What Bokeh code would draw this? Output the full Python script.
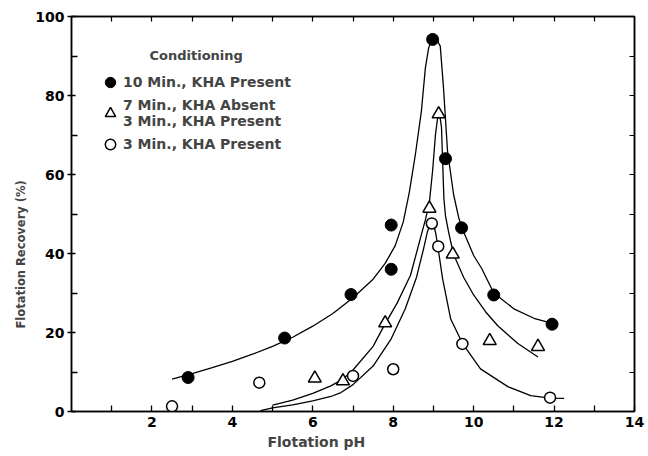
from bokeh.plotting import figure
from bokeh.models import (LinearAxis, FixedTicker, Legend, LegendItem, Label,
                          Range1d, CustomJSTickFormatter, Title)
from bokeh.embed import file_html
from bokeh.resources import INLINE

# ---- data ----
ph_10min = [2.9, 5.3, 6.95, 7.95, 7.95, 8.98, 9.3, 9.7, 10.5, 11.95]
rec_10min = [8.6, 18.6, 29.6, 47.2, 36.0, 94.2, 64.0, 46.5, 29.5, 22.1]

ph_7min = [6.05, 6.75, 7.8, 8.9, 9.13, 9.48, 10.4, 11.6]
rec_7min = [8.4, 7.7, 22.4, 51.4, 75.3, 39.8, 17.9, 16.4]

ph_3min = [2.5, 4.67, 7.0, 8.0, 8.96, 9.12, 9.72, 11.9]
rec_3min = [1.3, 7.3, 9.0, 10.7, 47.6, 41.8, 17.1, 3.5]

# hand-drawn fitted curves
curve10_x = [2.5, 3.0, 3.5, 4.0, 4.5, 5.0, 5.5, 6.0, 6.5, 7.0, 7.5, 7.8, 8.05,
             8.25, 8.4, 8.55, 8.7, 8.8, 8.88, 8.95, 9.02, 9.1, 9.17, 9.25, 9.35,
             9.5, 9.63, 9.75, 10.0, 10.2, 10.5, 11.0, 11.5, 12.0]
curve10_y = [8.2, 9.6, 11.1, 12.7, 14.5, 16.5, 18.8, 21.6, 24.8, 28.8, 33.5, 37.5,
             42.0, 48.0, 55.5, 65.0, 76.0, 87.0, 92.0, 94.0, 94.6, 93.8, 92.5, 82.0,
             66.0, 55.0, 49.0, 45.5, 39.5, 36.2, 30.0, 26.0, 23.6, 22.2]

curve7_x = [5.0, 5.5, 6.0, 6.45, 6.75, 7.0, 7.5, 7.76, 8.1, 8.43, 8.68, 8.8, 8.9,
            8.98, 9.05, 9.1, 9.15, 9.2, 9.23, 9.26, 9.3, 9.38, 9.5, 9.75, 10.0,
            10.3, 10.6, 11.1, 11.6]
curve7_y = [1.6, 2.9, 4.6, 6.5, 8.2, 10.5, 16.5, 21.5, 27.5, 34.5, 44.0, 48.5, 53.0,
            61.0, 70.0, 74.0, 75.5, 72.0, 63.0, 54.0, 49.5, 45.3, 39.8, 34.0, 29.5,
            25.2, 21.7, 17.2, 13.8]

curve3_x = [4.7, 5.0, 5.5, 6.0, 6.45, 6.7, 7.0, 7.5, 7.95, 8.3, 8.58, 8.75, 8.85,
            8.93, 9.0, 9.06, 9.12, 9.23, 9.43, 9.73, 10.17, 10.85, 11.42, 11.9, 12.25]
curve3_y = [0.2, 0.9, 1.7, 2.7, 3.8, 4.8, 6.8, 11.5, 18.4, 26.0, 34.0, 41.0, 45.5,
            47.6, 47.6, 45.0, 41.0, 33.5, 23.4, 17.1, 10.8, 6.3, 4.0, 3.4, 3.3]

x_ticks = [2, 4, 6, 8, 10, 12, 14]
x_minor = [1, 3, 5, 7, 9, 11, 13]
y_ticks = [0, 20, 40, 60, 80, 100]
y_minor = [10, 30, 50, 70, 90]
top_ticks = list(range(1, 14))
right_ticks = [10, 20, 30, 40, 50, 60, 70, 80, 90]

FONT = "DejaVu Sans"

p = figure(width=646, height=456, x_range=Range1d(0, 14), y_range=Range1d(0, 100),
           output_backend="svg", toolbar_location=None,
           min_border_left=71, min_border_right=12, min_border_top=16,
           min_border_bottom=43)
p.grid.visible = False
p.outline_line_color = "black"
p.outline_line_width = 1.5
p.background_fill_color = "white"
p.border_fill_color = "white"

xa = p.xaxis[0]
xa.ticker = FixedTicker(ticks=x_ticks, minor_ticks=x_minor)
xa.major_tick_in = 6
xa.major_tick_out = 0
xa.minor_tick_in = 6
xa.minor_tick_out = 0
xa.major_label_standoff = 5
xa.axis_line_width = 1.5
xa.major_tick_line_width = 1.3
xa.minor_tick_line_width = 1.3
xa.major_label_text_font = FONT
xa.major_label_text_font_size = "14px"
xa.major_label_text_font_style = "bold"
xa.major_label_text_color = "black"

ya = p.yaxis[0]
ya.ticker = FixedTicker(ticks=y_ticks, minor_ticks=y_minor)
ya.major_tick_in = 4
ya.major_tick_out = 4
ya.minor_tick_in = 6
ya.minor_tick_out = 0
ya.major_label_standoff = 3
ya.axis_line_width = 1.5
ya.major_tick_line_width = 1.3
ya.minor_tick_line_width = 1.3
ya.major_label_text_font = FONT
ya.major_label_text_font_size = "14px"
ya.major_label_text_font_style = "bold"
ya.major_label_text_color = "black"

blank = CustomJSTickFormatter(code="return ''")
top = LinearAxis(ticker=FixedTicker(ticks=top_ticks, minor_ticks=[]),
                 formatter=blank, major_tick_in=5, major_tick_out=0,
                 minor_tick_in=0, minor_tick_out=0, major_label_standoff=0,
                 major_label_text_font_size="1px", axis_line_width=1.5,
                 major_tick_line_width=1.2)
p.add_layout(top, "above")
right = LinearAxis(ticker=FixedTicker(ticks=right_ticks, minor_ticks=[]),
                   formatter=blank, major_tick_in=5, major_tick_out=0,
                   minor_tick_in=0, minor_tick_out=0, major_label_standoff=0,
                   major_label_text_font_size="1px", axis_line_width=1.5,
                   major_tick_line_width=1.2)
p.add_layout(right, "right")

# axis titles (offset along the axis like in the reference)
p.add_layout(Title(text="Flotation Recovery (%)", align="left", offset=83,
                   text_font=FONT, text_font_size="11.5px", text_font_style="bold",
                   standoff=10), "left")
p.add_layout(Title(text="Flotation pH", align="left", offset=196,
                   vertical_align="top", standoff=9,
                   text_font=FONT, text_font_size="14px", text_font_style="bold"),
             "below")

# curves
for cx, cy in [(curve10_x, curve10_y), (curve7_x, curve7_y), (curve3_x, curve3_y)]:
    p.line(cx, cy, line_color="black", line_width=1.3)

r10 = p.scatter(ph_10min, rec_10min, marker="circle", size=12,
                fill_color="black", line_color="black")
r7 = p.scatter(ph_7min, rec_7min, marker="triangle", size=13,
               fill_color="white", line_color="black", line_width=1.5)
r3 = p.scatter(ph_3min, rec_3min, marker="circle", size=11,
               fill_color="white", line_color="black", line_width=1.5)

legend = Legend(items=[
    LegendItem(label="10 Min., KHA Present", renderers=[r10]),
    LegendItem(label="7 Min., KHA Absent\n3 Min., KHA Present", renderers=[r7]),
    LegendItem(label="3 Min., KHA Present", renderers=[r3]),
], location=(26, 254), glyph_width=26, glyph_height=26, label_standoff=0,
    spacing=2, padding=0, margin=0, border_line_color=None,
    background_fill_alpha=0, label_text_font=FONT, label_text_font_size="14px",
    label_text_font_style="bold", label_height=14)
p.add_layout(legend)

p.add_layout(Label(x=3.1, y=90.2, text="Conditioning", text_align="center",
                   text_baseline="middle", text_font=FONT, text_font_size="13px",
                   text_font_style="bold"))

open("out.html", "w").write(file_html(p, INLINE))
